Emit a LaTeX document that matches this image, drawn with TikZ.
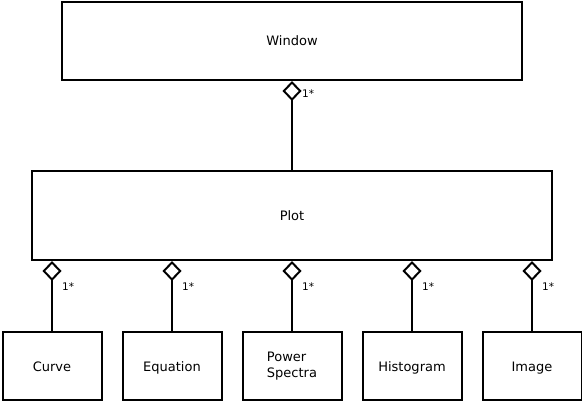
\documentclass[tikz,border=0pt]{standalone}
\usepackage{fontspec}
\setmainfont{DejaVu Sans}
\usetikzlibrary{arrows.meta}
\begin{document}
\begin{tikzpicture}[x=1pt,y=-1pt,
  box/.style={draw,line width=2pt,inner sep=0pt,font=\fontsize{13}{16}\selectfont},
  small/.style={box,minimum width=99pt,minimum height=68pt},
  one/.style={text height=9.5pt,text depth=0pt},
  agg/.style={line width=2pt,-{Diamond[open,length=20pt,width=19pt,line width=2pt]}},
  mult/.style={font=\fontsize{10.5}{12}\selectfont,anchor=west,inner sep=0pt}]
\useasboundingbox (0,0) rectangle (582,403);
\node[box,one,minimum width=460pt,minimum height=78pt] (window) at (292,41) {Window};
\node[box,one,minimum width=520pt,minimum height=89pt] (plot) at (292,215.5) {Plot};
\node[small,one] (curve) at (52,366.5) {Curve};
\node[small,one] (equation) at (172,366.5) {Equation};
\node[small,align=left] (power) at (292,366.5) {Power\\Spectra};
\node[small,one] (histogram) at (412,366.5) {Histogram};
\node[small,one] (image) at (532,366.5) {Image};
\draw[agg] (plot.north) -- (window.south);
\node[mult] (m0) at (302,94) {1*};
\foreach \n/\x in {curve/52,equation/172,power/292,histogram/412,image/532}{
  \draw[agg] (\n.north) -- (\n.north |- plot.south);
  \node[mult] (m\n) at (\x+10,286.5) {1*};
}
\end{tikzpicture}
\end{document}
